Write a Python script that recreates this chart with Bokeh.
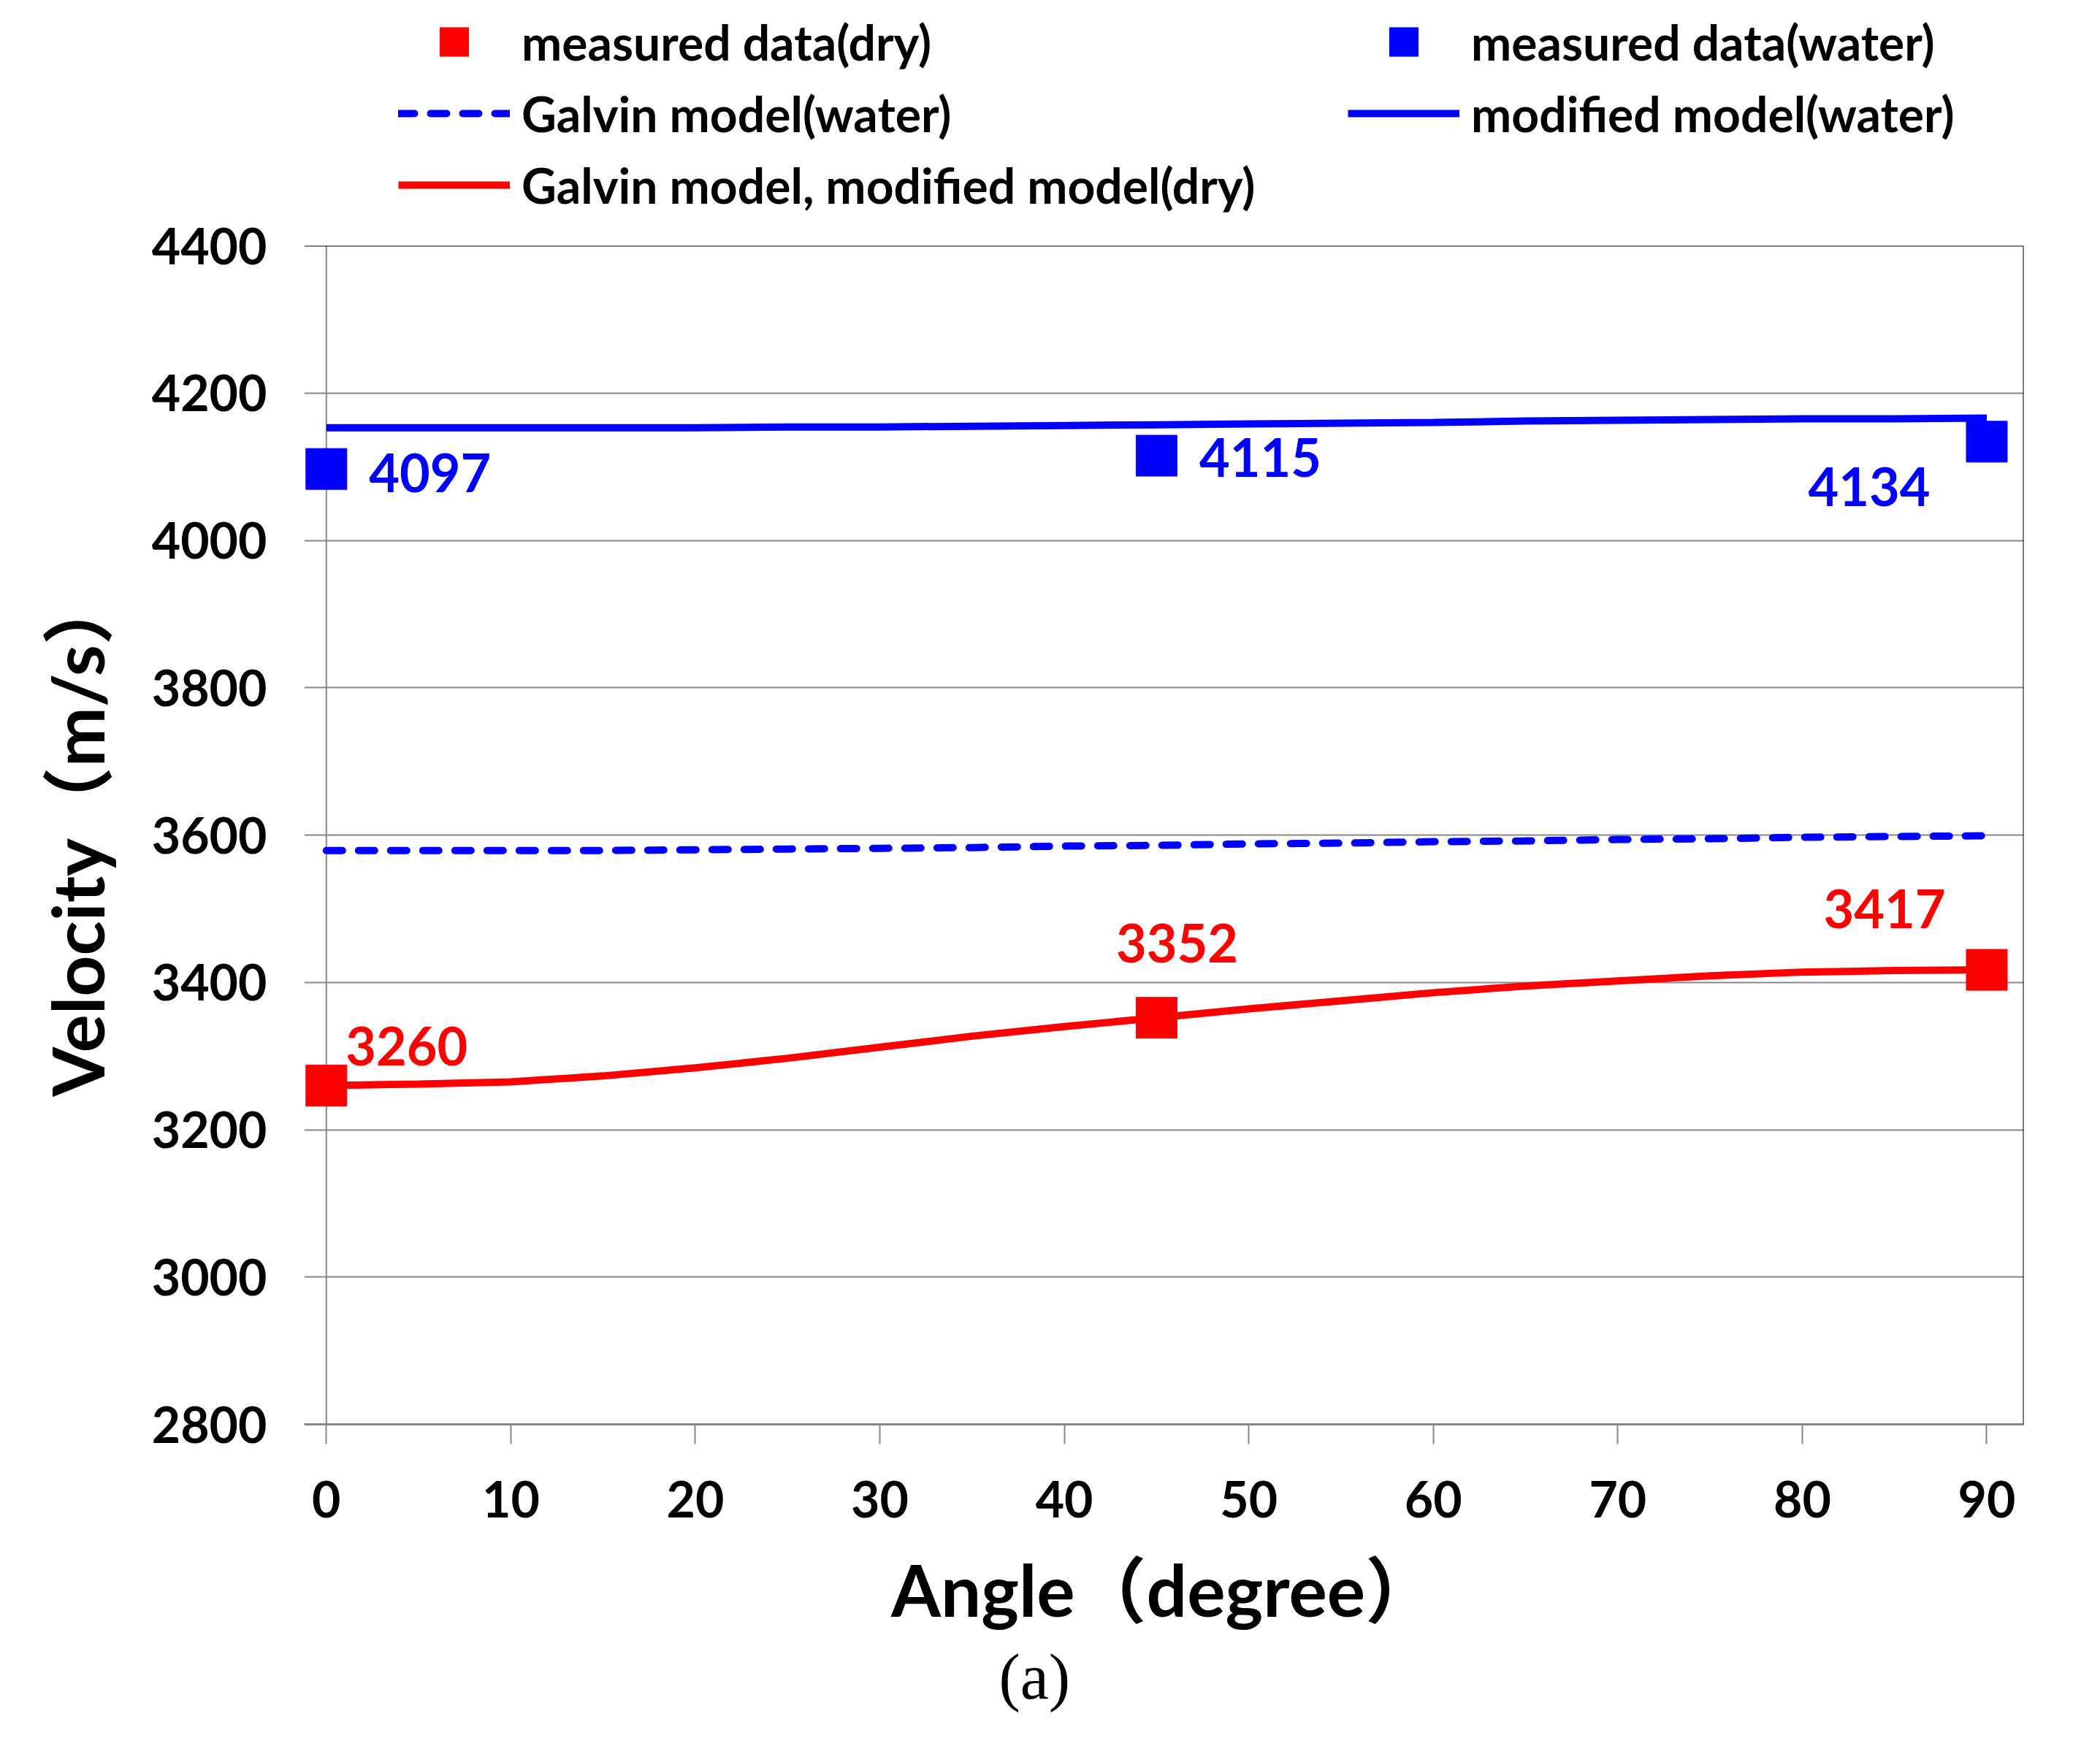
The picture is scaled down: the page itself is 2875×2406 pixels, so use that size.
from bokeh.plotting import figure
from bokeh.layouts import column
from bokeh.models import Range1d, FixedTicker, Span, Legend, LegendItem, ColumnDataSource, Title
from bokeh.core.properties import value
from bokeh.embed import file_html
from bokeh.resources import INLINE

# ---- data ----
angle_measured = [0, 45, 90]
dry_measured = [3260, 3352, 3417]
water_measured = [4097, 4115, 4134]

angle_model = [0, 5, 10, 15, 20, 25, 30, 35, 40, 45, 50, 55, 60, 65, 70, 75, 80, 85, 90]
dry_model = [3260, 3262, 3265, 3273, 3284, 3297, 3312, 3327, 3340, 3352,
             3364, 3375, 3386, 3395, 3402, 3409, 3414, 3416, 3417]
galvin_water = [3579, 3579, 3579, 3579, 3580, 3581, 3582, 3583, 3585, 3586,
                3588, 3589, 3591, 3592, 3594, 3595, 3597, 3598, 3599]
modified_water = [4153, 4153, 4153, 4153, 4153, 4154, 4154, 4155, 4156, 4157,
                  4158, 4159, 4160, 4162, 4163, 4164, 4165, 4165, 4166]

x_ticks = [0, 10, 20, 30, 40, 50, 60, 70, 80, 90]
y_ticks = [2800, 3000, 3200, 3400, 3600, 3800, 4000, 4200, 4400]

legend_labels = ["measured data(dry)", "Galvin model(water)",
                 "Galvin model, modified model(dry)",
                 "measured data(water)", "modified model(water)"]

# label placement (screen offsets from each point)
dry_label_dx = [110, 28, -140]
dry_label_dy = [-54, -102, -84]
water_label_dx = [142, 142, -161]
water_label_dy = [5, 3, 62]

RED = "#FF0000"
BLUE = "#0000FF"
GRAY = "#878787"
FONT = "Lato, 'Noto Sans CJK SC'"


def style_series(fig):
    """Draw the five series on a figure, return the renderers."""
    r_dry_line = fig.line(angle_model, dry_model, line_color=RED, line_width=10)
    r_galvin = fig.line(angle_model, galvin_water, line_color=BLUE, line_width=10,
                        line_dash="22 22", line_cap="round")
    r_mod = fig.line(angle_model, modified_water, line_color=BLUE, line_width=10)
    r_dry_pts = fig.scatter(angle_measured, dry_measured, marker="square", size=56,
                            fill_color=RED, line_color=RED)
    r_water_pts = fig.scatter(angle_measured, water_measured, marker="square", size=56,
                              fill_color=BLUE, line_color=BLUE)
    return r_dry_pts, r_galvin, r_dry_line, r_water_pts, r_mod


LEGEND_H = 296

# ---------------- main chart ----------------
p = figure(width=2866, height=2396 - LEGEND_H,
           x_range=Range1d(-1.2, 92), y_range=Range1d(2800, 4400),
           output_backend="svg", toolbar_location=None,
           min_border_left=416, min_border_right=96,
           min_border_top=336 - LEGEND_H, min_border_bottom=446)

p.outline_line_color = None
p.background_fill_color = "white"
p.border_fill_color = "white"

p.xgrid.visible = False
p.ygrid.ticker = FixedTicker(ticks=y_ticks)
p.ygrid.grid_line_color = GRAY
p.ygrid.grid_line_width = 2

p.xaxis.ticker = FixedTicker(ticks=x_ticks)
p.xaxis.axis_line_color = GRAY
p.xaxis.axis_line_width = 3
p.xaxis.major_tick_line_color = GRAY
p.xaxis.major_tick_line_width = 2
p.xaxis.major_tick_out = 27
p.xaxis.major_tick_in = 0
p.xaxis.minor_tick_line_color = None
p.xaxis.major_label_standoff = 50
p.xaxis.major_label_text_font = FONT
p.xaxis.major_label_text_font_size = "68px"
p.xaxis.major_label_text_font_style = "bold"
p.xaxis.major_label_text_color = "black"
p.xaxis.axis_label = "Angle（degree）"
p.xaxis.axis_label_text_font = FONT
p.xaxis.axis_label_text_font_size = "98px"
p.xaxis.axis_label_text_font_style = "bold"
p.xaxis.axis_label_text_color = "black"
p.xaxis.axis_label_standoff = 36

p.yaxis.ticker = FixedTicker(ticks=y_ticks)
p.yaxis.axis_line_color = None
p.yaxis.major_tick_line_color = None
p.yaxis.major_tick_out = 0
p.yaxis.major_tick_in = 0
p.yaxis.minor_tick_line_color = None
p.yaxis.major_label_standoff = 51
p.yaxis.major_label_text_font = FONT
p.yaxis.major_label_text_font_size = "68px"
p.yaxis.major_label_text_font_style = "bold"
p.yaxis.major_label_text_color = "black"
p.yaxis.axis_label = "Velocity（m/s）"
p.yaxis.axis_label_text_font = FONT
p.yaxis.axis_label_text_font_size = "98px"
p.yaxis.axis_label_text_font_style = "bold"
p.yaxis.axis_label_text_color = "black"
p.yaxis.axis_label_standoff = 41

p.add_layout(Span(location=0, dimension="height", line_color=GRAY, line_width=2, level="underlay"))
p.add_layout(Span(location=4400, dimension="width", line_color="black", line_width=2))
p.add_layout(Span(location=92, dimension="height", line_color="black", line_width=2))

style_series(p)

dry_src = ColumnDataSource(dict(x=angle_measured, y=dry_measured,
                                t=[str(v) for v in dry_measured],
                                dx=dry_label_dx, dy=dry_label_dy))
water_src = ColumnDataSource(dict(x=angle_measured, y=water_measured,
                                  t=[str(v) for v in water_measured],
                                  dx=water_label_dx, dy=water_label_dy))
p.text(x="x", y="y", text="t", x_offset="dx", y_offset="dy", source=dry_src,
       text_color=RED, text_font=value("Lato"), text_font_size="72px",
       text_font_style="bold", text_align="center", text_baseline="middle")
p.text(x="x", y="y", text="t", x_offset="dx", y_offset="dy", source=water_src,
       text_color=BLUE, text_font=value("Lato"), text_font_size="72px",
       text_font_style="bold", text_align="center", text_baseline="middle")

p.add_layout(Title(text="(a)", align="left", offset=951, standoff=16,
                   text_font="Liberation Serif", text_font_size="88px",
                   text_font_style="normal", text_color="black"), "below")

# ---------------- legend strip above the chart ----------------
lf = figure(width=2866, height=LEGEND_H, x_range=Range1d(0, 1), y_range=Range1d(0, 1),
            output_backend="svg", toolbar_location=None,
            min_border=0, min_border_left=0, min_border_right=0,
            min_border_top=0, min_border_bottom=0)
lf.axis.visible = False
lf.grid.visible = False
lf.outline_line_color = None
lf.background_fill_color = "white"
lf.border_fill_color = "white"

# same series, outside this strip's ranges: only their legend swatches show
rend = style_series(lf)

legend = Legend(
    items=[LegendItem(label=lab, renderers=[r]) for lab, r in zip(legend_labels, rend)],
    orientation="vertical", nrows=3,
    location=(129, -6), glyph_width=153, glyph_height=98,
    label_standoff=16, label_width=1131, label_height=20,
    padding=0, margin=0, spacing=0,
    border_line_alpha=0, background_fill_alpha=0,
    label_text_font=FONT, label_text_font_size="66px",
    label_text_font_style="bold", label_text_color="black",
    label_text_baseline="middle")
lf.add_layout(legend, "center")

page = column(lf, p, spacing=0)
open("out.html", "w").write(file_html(page, INLINE))
